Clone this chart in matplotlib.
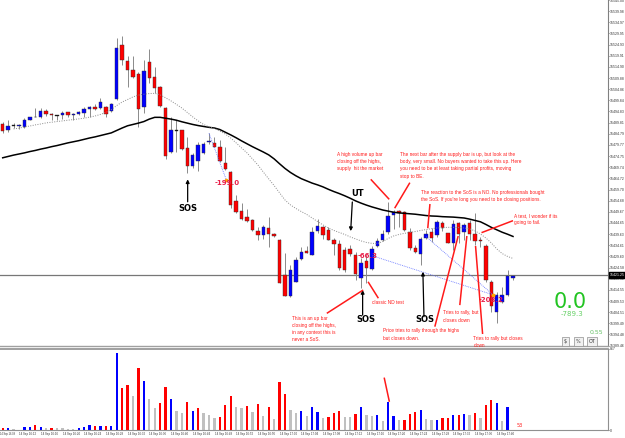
import numpy as np
import matplotlib
matplotlib.use('Agg')
from matplotlib import pyplot as plt

# 1-minute bars (index 0 = 14 Sep 16:08)
opens = [15489.2, 15486.5, 15488.4, 15488.4, 15488.0, 15491.0, 15492.2, 15492.2, 15495.0, 15493.7,
         15492.8, 15493.3, 15494.5, 15493.3, 15493.6, 15494.0, 15496.0, 15497.0, 15496.3, 15497.0,
         15495.2, 15500.3, 15524.6, 15517.6, 15513.5, 15511.7, 15496.7, 15517.2, 15510.2, 15506.0,
         15496.3, 15476.7, 15486.1, 15486.5, 15478.5, 15470.4, 15472.6, 15476.0, 15481.0, 15480.5,
         15479.0, 15471.5, 15467.5, 15454.6, 15450.2, 15447.5, 15446.0, 15441.0, 15439.3, 15442.3,
         15439.6, 15437.0, 15421.1, 15411.9, 15418.2, 15428.3, 15432.0, 15430.3, 15441.2, 15442.7,
         15441.5, 15437.0, 15435.2, 15432.5, 15433.0, 15430.3, 15419.9, 15427.6, 15424.0, 15434.5,
         15437.0, 15440.7, 15448.3, 15450.2, 15449.6, 15440.4, 15433.3, 15430.5, 15437.9, 15440.4,
         15439.3, 15444.5, 15440.0, 15435.7, 15444.5, 15440.4, 15444.5, 15439.7, 15437.2, 15434.4,
         15418.2, 15404.4, 15409.2, 15412.3, 15420.0]
highs = [15490.2, 15491.0, 15489.5, 15489.2, 15491.8, 15492.5, 15496.3, 15496.3, 15496.0, 15494.3,
         15493.3, 15495.0, 15494.7, 15494.3, 15495.2, 15497.0, 15497.3, 15498.1, 15501.0, 15497.3,
         15498.5, 15527.8, 15528.8, 15519.8, 15519.8, 15512.7, 15518.0, 15522.8, 15515.0, 15506.3,
         15496.7, 15492.5, 15491.0, 15486.5, 15483.5, 15476.0, 15481.2, 15481.2, 15485.0, 15483.5,
         15482.0, 15479.0, 15468.0, 15457.3, 15453.8, 15450.8, 15446.3, 15442.7, 15443.8, 15447.2,
         15440.0, 15437.3, 15431.0, 15425.8, 15429.5, 15434.0, 15434.3, 15443.0, 15446.3, 15443.3,
         15443.0, 15437.8, 15437.0, 15433.9, 15434.8, 15431.6, 15428.9, 15430.3, 15434.3, 15437.9,
         15441.5, 15454.3, 15450.7, 15450.7, 15450.1, 15442.4, 15434.8, 15438.5, 15441.5, 15442.4,
         15446.0, 15445.6, 15440.2, 15446.0, 15445.2, 15444.7, 15446.0, 15449.2, 15438.5, 15435.2,
         15419.0, 15413.7, 15416.0, 15423.5, 15421.0]
lows = [15485.3, 15485.7, 15487.3, 15486.8, 15487.4, 15491.0, 15492.2, 15491.8, 15492.9, 15491.0,
        15491.0, 15491.5, 15492.5, 15491.0, 15493.3, 15492.5, 15492.5, 15495.5, 15496.0, 15492.2,
        15494.7, 15500.0, 15515.8, 15506.0, 15509.8, 15488.0, 15494.0, 15507.5, 15503.0, 15496.7,
        15473.3, 15476.3, 15476.7, 15477.5, 15467.0, 15469.3, 15468.2, 15475.7, 15480.2, 15479.0,
        15472.2, 15468.5, 15451.3, 15449.0, 15446.0, 15445.2, 15441.2, 15437.0, 15437.3, 15434.0,
        15438.5, 15417.5, 15411.8, 15411.5, 15418.0, 15428.0, 15431.0, 15430.3, 15440.0, 15437.5,
        15437.0, 15430.3, 15423.5, 15422.6, 15429.8, 15419.0, 15415.4, 15417.7, 15423.5, 15433.9,
        15436.6, 15439.7, 15441.9, 15442.9, 15441.0, 15432.5, 15431.2, 15425.8, 15437.5, 15436.2,
        15438.5, 15441.0, 15435.5, 15432.5, 15435.5, 15437.0, 15437.0, 15434.8, 15434.0, 15418.2,
        15404.4, 15399.5, 15408.8, 15412.0, 15419.0]
closes = [15486.2, 15488.4, 15488.4, 15488.5, 15491.0, 15492.2, 15492.5, 15495.0, 15493.7, 15493.3,
          15492.8, 15494.3, 15493.3, 15493.8, 15494.6, 15496.0, 15496.9, 15496.0, 15499.0, 15493.8,
          15498.1, 15523.5, 15518.0, 15513.6, 15510.2, 15496.0, 15513.2, 15509.8, 15505.3, 15497.3,
          15474.8, 15486.5, 15486.1, 15478.0, 15470.4, 15475.3, 15479.8, 15480.1, 15481.3, 15479.0,
          15472.7, 15468.8, 15452.8, 15449.7, 15446.3, 15445.7, 15441.5, 15439.3, 15443.0, 15439.6,
          15438.8, 15417.8, 15411.9, 15423.5, 15428.0, 15431.7, 15431.3, 15440.7, 15443.3, 15439.3,
          15437.0, 15435.2, 15424.4, 15423.5, 15430.7, 15421.7, 15426.7, 15424.4, 15433.0, 15436.6,
          15439.5, 15447.8, 15449.7, 15449.0, 15441.7, 15433.3, 15431.6, 15437.5, 15439.6, 15438.1,
          15445.2, 15442.3, 15435.7, 15444.2, 15439.6, 15443.8, 15439.7, 15436.6, 15436.6, 15418.9,
          15407.3, 15412.3, 15412.3, 15420.7, 15420.7]
volumes = [25, 25, 11, 5, 32, 32, 53, 35, 25, 25,
           18, 18, 11, 11, 25, 35, 53, 43, 46, 43,
           46, 821, 453, 478, 367, 667, 528, 332, 232, 292,
           463, 332, 203, 182, 296, 203, 239, 179, 160, 132,
           136, 268, 364, 249, 239, 257, 196, 278, 150, 243,
           118, 517, 382, 211, 182, 200, 147, 243, 193, 132,
           142, 185, 203, 142, 142, 168, 243, 160, 147, 160,
           100, 305, 153, 104, 104, 174, 193, 217, 118, 104,
           110, 132, 132, 160, 157, 171, 157, 182, 132, 268,
           318, 286, 96, 243, 5]
vol_colors = list('rbggbbrbgr' 'ggggbbbrbr' 'bbrrgrbggr' 'rbggrbrggg' 'rrrggrgrgr'
                  'grrggbgbbg' 'rrrggrbggb' 'gbbgrrrbgg' 'brrbrbgrgr' 'rbgbg')
ma_slow = [15474.0, 15474.6, 15475.2, 15475.7, 15476.2, 15476.8, 15477.3, 15477.9, 15478.4, 15479.0,
           15479.5, 15480.1, 15480.7, 15481.2, 15481.7, 15482.3, 15482.9, 15483.4, 15484.0, 15484.6,
           15485.2, 15486.3, 15487.4, 15488.4, 15489.0, 15489.6, 15490.3, 15491.4, 15492.2, 15492.2,
           15491.8, 15491.4, 15490.9, 15490.2, 15489.6, 15489.0, 15488.5, 15488.1, 15487.7, 15487.4,
           15486.7, 15485.5, 15484.3, 15483.0, 15481.6, 15480.3, 15479.0, 15477.8, 15476.6, 15475.3,
           15473.5, 15471.3, 15469.2, 15467.4, 15465.9, 15464.6, 15463.6, 15462.6, 15461.8, 15460.9,
           15459.8, 15458.8, 15457.9, 15456.9, 15455.8, 15454.6, 15453.6, 15452.7, 15451.9, 15451.2,
           15450.5, 15450.0, 15449.5, 15449.2, 15449.0, 15448.8, 15448.6, 15448.3, 15448.0, 15447.8,
           15447.7, 15447.5, 15447.4, 15447.3, 15447.1, 15446.9, 15446.4, 15445.8, 15445.2, 15444.0,
           15442.7, 15441.6, 15440.5, 15439.6, 15438.6]
ma_fast = [np.nan, np.nan, 15487.0, 15487.3, 15487.9, 15488.3, 15488.8, 15489.2, 15489.7, 15490.0,
           15490.3, 15490.6, 15490.9, 15491.2, 15491.5, 15491.8, 15492.3, 15492.8, 15493.5, 15494.4,
           15495.7, 15497.5, 15499.1, 15500.2, 15501.4, 15502.2, 15502.6, 15502.9, 15503.0, 15502.3,
           15501.0, 15499.6, 15498.0, 15496.4, 15494.4, 15492.4, 15490.6, 15489.0, 15487.9, 15487.2,
           15486.0, 15484.7, 15482.9, 15480.7, 15478.4, 15476.2, 15473.5, 15470.8, 15467.6, 15464.5,
           15461.5, 15458.2, 15455.0, 15452.8, 15451.2, 15449.8, 15448.5, 15446.9, 15445.3, 15443.8,
           15442.4, 15441.3, 15440.4, 15439.5, 15438.4, 15437.5, 15436.6, 15435.9, 15435.5, 15435.4,
           15436.3, 15437.7, 15438.8, 15439.5, 15440.0, 15440.4, 15440.8, 15441.3, 15441.7, 15442.1,
           15442.4, 15442.6, 15442.7, 15442.7, 15442.6, 15442.4, 15442.0, 15441.1, 15439.7, 15437.9,
           15435.7, 15433.0, 15430.9, 15429.6, 15428.7]
time_labels = ['14 Sep 16:08', '14 Sep 16:12', '14 Sep 16:16', '14 Sep 16:20', '14 Sep 16:24',
               '14 Sep 16:28', '14 Sep 16:32', '14 Sep 16:36', '14 Sep 16:40', '14 Sep 16:44',
               '14 Sep 16:48', '14 Sep 16:52', '14 Sep 16:56', '14 Sep 17:00', '14 Sep 17:04',
               '14 Sep 17:08', '14 Sep 17:12', '14 Sep 17:16', '14 Sep 17:20', '14 Sep 17:24',
               '14 Sep 17:28', '14 Sep 17:32', '14 Sep 17:36', '14 Sep 17:40']
last_price = 15421.25
# closed trades: (bar in, price in, bar out, price out, result)
trades = [(38.0, 15485.0, 41.2, 15464.0, '-199.0'),
          (68.1, 15429.9, 90.35, 15412.3, '-66.3'),
          (78.0, 15438.5, 90.35, 15412.3, '-208.2')]

W, H = 625.0, 438.0
fig = plt.figure(figsize=(W / 100, H / 100), dpi=100)
ax = fig.add_axes([0, 1 - 346 / H, 608 / W, 346 / H])
axv = fig.add_axes([0, 1 - 430 / H, 608 / W, 81 / H])
tickfont = 'Liberation Sans'

n = len(opens)
idx = np.arange(n)
o = np.array(opens)
c = np.array(closes)

###################################################################################################
# price panel
###################################################################################################
ax.axhline(last_price, color='#777777', lw=0.9, zorder=1)
ax.vlines(idx, lows, highs, color='#8a8a8a', lw=0.7, zorder=2)
body_col = np.where(c > o, '#0000ff', np.where(c < o, '#ff0000', '#000000'))
ax.bar(idx, np.maximum(np.abs(c - o), 0.35), bottom=np.minimum(o, c), width=0.62,
       color=body_col, edgecolor='#303030', linewidth=0.3, zorder=3)
ax.plot(idx, ma_slow, color='black', lw=1.1, zorder=4)
ax.plot(idx, ma_fast, color='#8a8a8a', lw=0.7, ls=(0, (1, 1.5)), zorder=4)

for x0, y0, x1, y1, res in trades:
    ax.plot([x0, x1], [y0, y1], color='#6070ff', lw=0.6, ls=(0, (1, 1.2)), zorder=5)
    ax.plot([x1], [y1], 'o', ms=1.6, color='#ffa500', zorder=6)
ax.text(41.3, 15462.6, trades[0][4], color='#e8204a', fontsize=5, fontweight='bold', ha='center', va='center', zorder=7)
ax.text(67.3, 15429.8, trades[1][4], color='#e8204a', fontsize=5, fontweight='bold', ha='center', va='center', zorder=7)
ax.text(89.9, 15410.0, trades[2][4], color='#e8204a', fontsize=5, fontweight='bold', ha='center', va='center', zorder=7)

# black labels with arrows
def arrow(x0, y0, x1, y1):
    ax.annotate('', xy=(x1, y1), xytext=(x0, y0),
                arrowprops=dict(arrowstyle='-|>', color='black', lw=0.9, mutation_scale=5,
                                shrinkA=0, shrinkB=0), zorder=8)

arrow(34.07, 15454.2, 34.07, 15464.3)
ax.text(34.07, 15451.3, 'SOS', fontsize=6, fontweight='bold', ha='center', va='center')
arrow(64.4, 15454.1, 64.1, 15441.0)
ax.text(65.4, 15457.7, 'UT', fontsize=6, fontweight='bold', ha='center', va='center')
arrow(66.3, 15403.2, 66.3, 15414.5)
ax.text(66.9, 15401.0, 'SOS', fontsize=6, fontweight='bold', ha='center', va='center')
arrow(77.6, 15402.5, 77.4, 15422.7)
ax.text(77.8, 15401.4, 'SOS', fontsize=6, fontweight='bold', ha='center', va='center')

# red comments and pointers
red = '#ff1a1a'
pointers = [((67.8, 15464.3), (71.2, 15455.3)), ((75.0, 15462.8), (72.2, 15451.3)),
            ((78.7, 15453.2), (78.3, 15442.3)), ((94.0, 15445.7), (88.2, 15440.3)),
            ((59.7, 15404.0), (66.4, 15414.5)), ((69.2, 15410.8), (67.3, 15418.2)),
            ((84.2, 15407.7), (85.5, 15438.8)), ((79.6, 15398.0), (83.9, 15438.8)),
            ((88.4, 15394.7), (87.1, 15434.3))]
for (x0, y0), (x1, y1) in pointers:
    ax.plot([x0, x1], [y0, y1], color=red, lw=1.1, solid_capstyle='butt', zorder=9)

notes = [(61.5, 15476.6, 'A high volume up bar\nclosing off the highs,\nsupply  hit the market'),
         (73.2, 15476.6, 'The next bar after the supply bar is up, but look at the\n'
                         'body, very small. No buyers wanted to take this up. Here\n'
                         'you need to be at least taking partial profits, moving\nstop to BE.'),
         (77.0, 15459.5, 'The reaction to the SoS is a NO. No professionals bought\n'
                         "the SoS. If you're long you need to be closing positions."),
         (94.2, 15449.1, 'A test, I wonder if its\ngoing to fail.'),
         (53.3, 15403.0, 'This is an up bar\nclosing off the highs,\nin any context this is\nnever a SoS.'),
         (68.1, 15409.8, 'classic ND test'),
         (81.1, 15405.3, 'Tries to rally, but\ncloses down'),
         (70.0, 15397.2, 'Price tries to rally through the highs\nbut closes down.'),
         (86.7, 15394.0, 'Tries to rally but closes\ndown')]
for x, y, s in notes:
    ax.text(x, y, s, fontsize=3.4, color=red, ha='left', va='top', linespacing=1.55,
            family='Liberation Sans', zorder=10, clip_on=False)

ax.set_xlim(-0.5, 111.5)
ax.set_ylim(15389.3, 15545.0)
ax.set_xticks([])
ax.yaxis.tick_right()
pticks = [15545.0 - 5.0175 * k for k in range(32)]
ax.set_yticks(pticks)
ax.set_yticklabels(['%.2f' % t for t in pticks], family=tickfont)
ax.tick_params(axis='y', labelsize=2.5, length=1, width=0.5, pad=0.6, colors='#333333')
for s in ['top', 'left']:
    ax.spines[s].set_visible(False)
ax.spines['right'].set_color('#808080')
ax.spines['bottom'].set_color('#a0a0a0')
ax.spines['bottom'].set_linewidth(1.0)
ax.text(1.003, last_price, '%.2f' % last_price, transform=ax.get_yaxis_transform(),
        fontsize=2.5, family=tickfont, color='white', ha='left', va='center',
        bbox=dict(boxstyle='square,pad=0.15', fc='black', ec='black'), clip_on=False)

###################################################################################################
# volume panel
###################################################################################################
colmap = {'r': '#ff0000', 'b': '#0000ff', 'g': '#c0c0c0'}
axv.bar(idx, volumes, width=0.4, color=[colmap[k] for k in vol_colors], linewidth=0)
axv.plot([70.3, 71.2], [553, 310], color=red, lw=1.1)
axv.text(94.6, 25, '53', fontsize=3.5, color=red, ha='left', va='bottom')
axv.set_xlim(-0.5, 111.5)
axv.set_ylim(0, 867)
axv.yaxis.tick_right()
axv.set_yticks([0, 867])
axv.set_yticklabels(['0', '867'], family=tickfont)
axv.tick_params(axis='y', labelsize=2.5, length=1, width=0.5, pad=0.6, colors='#333333')
# time axis: first label is pinned to the left edge so it is not cut
axv.set_xticks(np.arange(1, len(time_labels)) * 4 + 0.6)
axv.set_xticklabels(time_labels[1:], family=tickfont)
axv.tick_params(axis='x', labelsize=2.1, length=0, pad=1.2, colors='#333333')
axv.annotate(time_labels[0], xy=(-0.5, 0), xycoords=('data', 'axes fraction'),
             xytext=(0, -1.2), textcoords='offset points', ha='left', va='top',
             fontsize=1.8, family=tickfont, color='#333333', annotation_clip=False)
axv.spines['left'].set_visible(False)
for s in ['top', 'right', 'bottom']:
    axv.spines[s].set_color('#909090')
axv.spines['top'].set_linewidth(1.2)

###################################################################################################
# profit widget in the corner
###################################################################################################
fig.text(570 / W, 1 - 302 / H, '0.0', fontsize=15, color='#22c422', ha='center', va='center')
fig.text(572 / W, 1 - 314 / H, '-789.3', fontsize=5, color='#66d066', ha='center', va='center')
fig.text(603 / W, 1 - 333 / H, '0.55', fontsize=4.5, color='#66c066', ha='right', va='center')
for xb, lab in [(565.5, '$'), (578.5, '%'), (592, 'OT')]:
    fig.text(xb / W, 1 - 341.5 / H, lab, fontsize=3.5, color='#333333', ha='center', va='center',
             bbox=dict(boxstyle='square,pad=0.4', fc='#f0f0f0', ec='#909090', lw=0.5))

fig.savefig('out.png', dpi=100)
